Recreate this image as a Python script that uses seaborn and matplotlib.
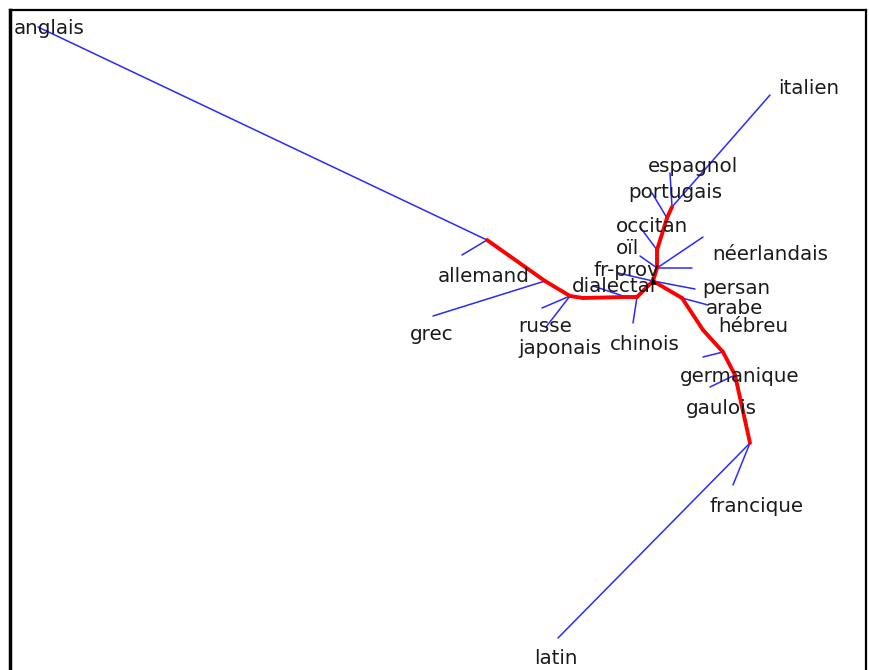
import pandas as pd
import matplotlib.pyplot as plt
import seaborn as sns

noeuds = {
    "A": (487, 240), "B": (545, 281), "C": (570, 296), "C2": (583, 298),
    "E": (626, 297), "D": (637, 297), "H": (653, 281),
    "U1": (657, 268), "U2": (657, 250), "U3": (667, 218), "U4": (672, 207),
    "D1": (682, 298), "D2": (703, 330), "D3": (723, 352), "D4": (735, 375),
    "F": (750, 443),
}

# chemin rouge (branches internes)
chemin_rouge = ["A", "B", "C", "C2", "E", "D", "H", "U1", "U2", "U3", "U4"]
chemin_rouge2 = ["H", "D1", "D2", "D3", "D4", "F"]

# feuilles : (noeud parent, extrémité)
feuilles = [
    ("A", (38, 27)), ("A", (462, 255)),
    ("B", (433, 316)),
    ("C", (542, 308)), ("C", (546, 327)),
    ("E", (593, 286)),
    ("D", (633, 323)),
    ("H", (618, 273)), ("H", (695, 289)),
    ("U1", (703, 237)), ("U1", (692, 268)), ("U1", (640, 256)),
    ("U2", (640, 227)),
    ("U3", (652, 193)),
    ("U4", (670, 173)), ("U4", (770, 95)),
    ("D1", (708, 305)),
    ("D3", (703, 357)),
    ("D4", (710, 387)),
    ("F", (733, 485)), ("F", (558, 638)),
]

# étiquettes (texte, x gauche, y centre)
etiquettes = ["anglais", "italien", "espagnol", "portugais", "occitan", "oïl",
              "néerlandais", "fr-prov", "allemand", "dialectal", "persan",
              "arabe", "hébreu", "grec", "russe", "japonais", "chinois",
              "germanique", "gaulois", "francique", "latin"]
etiq_x = [14, 778, 648, 628, 616, 616, 712, 594, 438, 572, 702,
          706, 718, 410, 518, 518, 610, 680, 686, 710, 534]
etiq_y = [29, 89, 166, 193, 227, 249, 255, 271, 276, 287, 289,
          308, 327, 334, 327, 348, 344, 377, 408, 506, 659]

rows = []
seg = 0
for chemin in (chemin_rouge, chemin_rouge2):
    for a, b in zip(chemin[:-1], chemin[1:]):
        for n in (a, b):
            rows.append({"seg": seg, "x": noeuds[n][0], "y": noeuds[n][1], "type": "interne"})
        seg += 1
for parent, (fx, fy) in feuilles:
    rows.append({"seg": seg, "x": noeuds[parent][0], "y": noeuds[parent][1], "type": "feuille"})
    rows.append({"seg": seg, "x": fx, "y": fy, "type": "feuille"})
    seg += 1
df = pd.DataFrame(rows)

sns.set_style("white")
plt.rcParams["font.family"] = ["DejaVu Sans"]

fig = plt.figure(figsize=(8.69, 6.7), dpi=100)
ax = fig.add_axes([10 / 869, -10 / 670, 856 / 869, 1.0])

sns.lineplot(data=df, x="x", y="y", units="seg", estimator=None, sort=False,
             hue="type", hue_order=["feuille", "interne"],
             palette={"feuille": "#2a2aff", "interne": "#ff0000"},
             size="type", sizes={"feuille": 1.1, "interne": 2.8},
             legend=False, ax=ax)

# petite marque noire au noeud central
hub = pd.DataFrame({"x": [noeuds["H"][0]], "y": [noeuds["H"][1]]})
sns.scatterplot(data=hub, x="x", y="y", marker="^", s=22, color="black",
                linewidth=0, zorder=5, ax=ax)

for t, x, y in zip(etiquettes, etiq_x, etiq_y):
    ax.text(x, y, t, ha="left", va="center", fontsize=14.3, color="#1a1a1a")

ax.set_xlim(10, 866)
ax.set_ylim(680, 10)
ax.set_xticks([])
ax.set_yticks([])
ax.set_xlabel("")
ax.set_ylabel("")
for s in ax.spines.values():
    s.set_color("black")
    s.set_linewidth(1.6)
ax.spines["left"].set_linewidth(2.5)

plt.savefig("out.png", dpi=100)
